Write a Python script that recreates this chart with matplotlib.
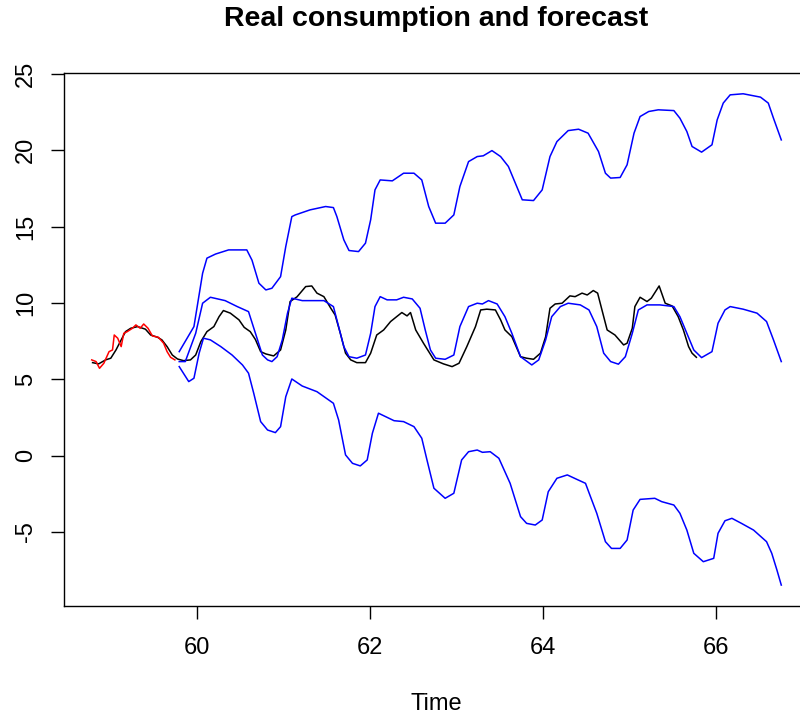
import matplotlib
matplotlib.use("Agg")
import matplotlib.pyplot as plt

plt.rcParams['font.family'] = ['Liberation Sans', 'DejaVu Sans']
plt.rcParams['axes.unicode_minus'] = False

# observed consumption (black) and fitted values (red)
real_x = [58.80, 58.87, 58.95, 59.01, 59.07, 59.12, 59.18, 59.24, 59.32, 59.41,
          59.47, 59.55, 59.60, 59.66, 59.72, 59.78, 59.85, 59.93, 59.99, 60.05,
          60.12, 60.20, 60.26, 60.31, 60.39, 60.49, 60.55, 60.62, 60.68, 60.74,
          60.80, 60.89, 60.97, 61.03, 61.08, 61.16, 61.26, 61.33, 61.39, 61.47,
          61.55, 61.60, 61.66, 61.72, 61.78, 61.85, 61.95, 62.01, 62.08, 62.16,
          62.24, 62.31, 62.37, 62.43, 62.47, 62.53, 62.62, 62.74, 62.85, 62.95,
          63.03, 63.12, 63.22, 63.28, 63.35, 63.45, 63.51, 63.56, 63.64, 63.74,
          63.81, 63.89, 63.97, 64.03, 64.08, 64.14, 64.22, 64.31, 64.37, 64.45,
          64.51, 64.58, 64.63, 64.68, 64.74, 64.83, 64.93, 64.97, 65.03, 65.06,
          65.12, 65.20, 65.25, 65.34, 65.41, 65.49, 65.56, 65.62, 65.68, 65.72,
          65.77]
real_y = [6.09, 6.01, 6.27, 6.38, 6.92, 7.47, 8.12, 8.34, 8.45, 8.28,
          7.90, 7.75, 7.58, 7.14, 6.59, 6.33, 6.22, 6.27, 6.59, 7.47,
          8.12, 8.45, 9.10, 9.50, 9.33, 8.89, 8.40, 8.12, 7.60, 6.81,
          6.66, 6.53, 6.92, 8.23, 10.09, 10.40, 11.07, 11.11, 10.64, 10.41,
          9.65, 9.21, 8.01, 6.71, 6.27, 6.09, 6.09, 6.71, 7.90, 8.23,
          8.78, 9.10, 9.37, 9.15, 9.37, 8.23, 7.36, 6.27, 6.01, 5.83,
          6.05, 7.14, 8.45, 9.54, 9.59, 9.54, 8.89, 8.23, 7.79, 6.48,
          6.38, 6.31, 6.71, 7.79, 9.65, 9.93, 9.98, 10.46, 10.41, 10.64,
          10.52, 10.81, 10.64, 9.54, 8.23, 7.90, 7.25, 7.36, 8.34, 9.76,
          10.37, 10.09, 10.31, 11.11, 9.98, 9.80, 9.10, 8.23, 7.14, 6.71,
          6.44]

fit_x = [58.79, 58.84, 58.88, 58.93, 58.99, 59.03, 59.05, 59.09, 59.13, 59.16,
         59.20, 59.26, 59.30, 59.35, 59.39, 59.44, 59.49, 59.56, 59.62, 59.66,
         59.70, 59.75]
fit_y = [6.27, 6.16, 5.72, 6.05, 6.81, 6.92, 7.90, 7.69, 7.14, 8.01,
         8.12, 8.34, 8.56, 8.34, 8.62, 8.34, 7.84, 7.75, 7.36, 6.81,
         6.44, 6.27]

# forecast and interval bounds (blue)
fc_x = [59.80, 59.87, 59.99, 60.07, 60.16, 60.33, 60.47, 60.60, 60.68, 60.76,
        60.82, 60.87, 60.93, 60.99, 61.05, 61.10, 61.22, 61.47, 61.58, 61.64,
        61.70, 61.76, 61.85, 61.95, 62.01, 62.06, 62.12, 62.20, 62.31, 62.39,
        62.49, 62.58, 62.64, 62.70, 62.76, 62.87, 62.97, 63.04, 63.14, 63.24,
        63.30, 63.37, 63.47, 63.56, 63.64, 63.74, 63.87, 63.95, 64.03, 64.10,
        64.20, 64.29, 64.43, 64.53, 64.62, 64.70, 64.78, 64.87, 64.95, 65.03,
        65.10, 65.20, 65.35, 65.51, 65.58, 65.66, 65.74, 65.83, 65.95, 66.02,
        66.10, 66.16, 66.31, 66.47, 66.58, 66.66, 66.75]
fc_y = [6.16, 6.16, 8.01, 9.98, 10.37, 10.15, 9.76, 9.43, 8.01, 6.59,
        6.27, 6.16, 6.48, 7.58, 9.33, 10.31, 10.15, 10.15, 9.76, 8.45,
        7.14, 6.48, 6.38, 6.59, 8.01, 9.76, 10.41, 10.20, 10.20, 10.37,
        10.26, 9.65, 8.23, 6.92, 6.38, 6.31, 6.59, 8.45, 9.76, 9.98,
        9.93, 10.15, 9.93, 9.10, 8.01, 6.48, 5.94, 6.27, 7.58, 9.10,
        9.76, 9.98, 9.87, 9.54, 8.45, 6.71, 6.16, 5.99, 6.48, 8.01,
        9.54, 9.87, 9.87, 9.76, 9.10, 8.01, 6.92, 6.42, 6.81, 8.67,
        9.54, 9.76, 9.59, 9.33, 8.78, 7.58, 6.16]

hi_x = [59.80, 59.97, 60.07, 60.12, 60.22, 60.37, 60.58, 60.64, 60.72, 60.80,
        60.87, 60.97, 61.03, 61.10, 61.14, 61.31, 61.49, 61.58, 61.62, 61.70,
        61.76, 61.87, 61.95, 62.01, 62.06, 62.12, 62.26, 62.39, 62.51, 62.60,
        62.68, 62.76, 62.87, 62.97, 63.04, 63.14, 63.24, 63.31, 63.41, 63.51,
        63.60, 63.68, 63.76, 63.89, 63.99, 64.08, 64.16, 64.29, 64.41, 64.52,
        64.64, 64.72, 64.78, 64.89, 64.97, 65.05, 65.12, 65.22, 65.33, 65.51,
        65.58, 65.66, 65.72, 65.83, 65.95, 66.01, 66.08, 66.16, 66.31, 66.51,
        66.60, 66.66, 66.75]
hi_y = [6.81, 8.45, 11.94, 12.93, 13.20, 13.47, 13.47, 12.80, 11.29, 10.85,
        10.96, 11.72, 13.69, 15.65, 15.76, 16.09, 16.31, 16.24, 15.65, 14.13,
        13.43, 13.36, 13.91, 15.44, 17.40, 18.05, 17.99, 18.49, 18.49, 18.05,
        16.31, 15.22, 15.22, 15.76, 17.62, 19.25, 19.58, 19.63, 19.97, 19.58,
        18.93, 17.84, 16.75, 16.70, 17.40, 19.58, 20.56, 21.28, 21.37, 21.11,
        19.91, 18.49, 18.17, 18.21, 19.04, 21.11, 22.20, 22.53, 22.64, 22.59,
        22.09, 21.22, 20.24, 19.87, 20.35, 21.98, 23.08, 23.62, 23.69, 23.47,
        23.08, 22.09, 20.67]

lo_x = [59.80, 59.91, 59.97, 60.03, 60.08, 60.16, 60.28, 60.41, 60.53, 60.60,
        60.66, 60.74, 60.82, 60.91, 60.97, 61.03, 61.10, 61.22, 61.39, 61.58,
        61.64, 61.72, 61.80, 61.89, 61.97, 62.03, 62.10, 62.28, 62.39, 62.51,
        62.60, 62.66, 62.74, 62.87, 62.97, 63.06, 63.14, 63.24, 63.30, 63.39,
        63.49, 63.62, 63.74, 63.81, 63.91, 63.99, 64.06, 64.16, 64.28, 64.39,
        64.49, 64.54, 64.62, 64.72, 64.79, 64.89, 64.97, 65.04, 65.12, 65.29,
        65.37, 65.51, 65.58, 65.66, 65.74, 65.85, 65.97, 66.02, 66.10, 66.18,
        66.29, 66.43, 66.58, 66.64, 66.70, 66.75]
lo_y = [5.83, 4.85, 5.07, 6.71, 7.69, 7.58, 7.14, 6.59, 5.94, 5.40,
        4.09, 2.23, 1.68, 1.51, 1.90, 3.86, 5.02, 4.56, 4.19, 3.43,
        2.34, 0.05, -0.50, -0.67, -0.28, 1.47, 2.78, 2.29, 2.23, 1.90,
        1.14, -0.28, -2.13, -2.79, -2.46, -0.28, 0.26, 0.37, 0.22, 0.26,
        -0.17, -1.81, -3.99, -4.43, -4.54, -4.21, -2.36, -1.48, -1.26, -1.55,
        -1.81, -2.57, -3.77, -5.63, -6.07, -6.07, -5.52, -3.56, -2.86, -2.79,
        -3.01, -3.23, -3.77, -4.87, -6.39, -6.94, -6.72, -5.08, -4.26, -4.10,
        -4.43, -4.87, -5.63, -6.39, -7.49, -8.47]

xticks = [60, 62, 64, 66]
yticks = [-5, 0, 5, 10, 15, 20, 25]

fig = plt.figure(figsize=(8, 7.16), dpi=100)
# plot box runs past the right edge of the image, as in the original
ax = fig.add_axes([64 / 800, 110 / 716, 745 / 800, 533 / 716])

ax.plot(real_x, real_y, color='black', lw=1.1)
ax.plot(fit_x, fit_y, color='red', lw=1.1)
ax.plot(fc_x, fc_y, color='blue', lw=1.1)
ax.plot(hi_x, hi_y, color='blue', lw=1.1)
ax.plot(lo_x, lo_y, color='blue', lw=1.1)

ax.set_xlim(58.47, 67.07)
ax.set_ylim(-9.84, 25.05)
ax.set_xticks(xticks)
ax.set_yticks(yticks)
ax.tick_params(direction='out', length=9.5, width=1, labelsize=17)
ax.tick_params(axis='x', pad=13)
ax.tick_params(axis='y', labelrotation=90, pad=10)
for lab in ax.get_yticklabels():
    lab.set_va('center')
for sp in ax.spines.values():
    sp.set_linewidth(1)

ax.set_title("Real consumption and forecast", fontsize=20.5, fontweight='bold', pad=33.5)
ax.set_xlabel("Time", fontsize=17, labelpad=24)

fig.savefig("out.png", dpi=100)
